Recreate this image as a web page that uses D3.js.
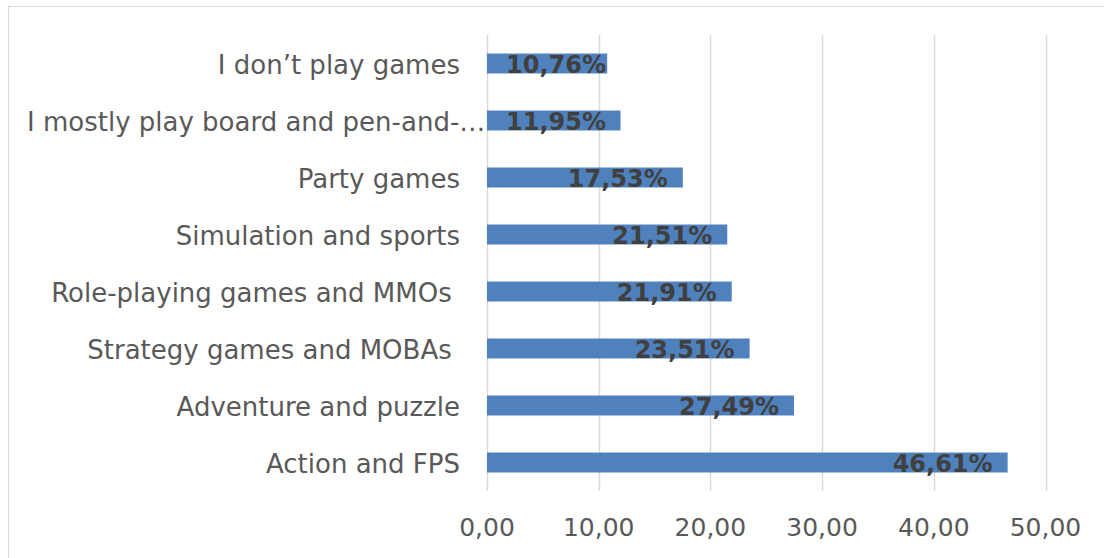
<!DOCTYPE html>
<html>
<head>
<meta charset="utf-8">
<script src="https://cdn.jsdelivr.net/npm/d3@7"></script>
<style>
  body { margin: 0; background: #fff; }
  svg text { white-space: pre; }
</style>
</head>
<body>
<svg width="1104" height="558"></svg>
<script>
const categories = [
  'I don\u2019t play games',
  'I mostly play board and pen-and-\u2026',
  'Party games',
  'Simulation and sports',
  'Role-playing games and MMOs ',
  'Strategy games and MOBAs ',
  'Adventure and puzzle',
  'Action and FPS'
];
const values = [10.76, 11.95, 17.53, 21.51, 21.91, 23.51, 27.49, 46.61];
const ticks = [0, 10, 20, 30, 40, 50];

const FONT = '"DejaVu Sans", Verdana, sans-serif';
const data = categories.map((c, i) => ({ name: c, value: values[i] }));

const svg = d3.select('svg');

// chart border
svg.append('rect')
  .attr('x', 8.5).attr('y', 6.5)
  .attr('width', 1110).attr('height', 600)
  .attr('fill', 'none')
  .attr('stroke', '#d9d9d9')
  .attr('stroke-width', 1);

const x = d3.scaleLinear().domain([0, 50]).range([487, 1045.5]);
const y = d3.scaleBand().domain(categories).range([35, 491]).paddingInner(0.65).paddingOuter(0.325);

// gridlines
svg.append('g')
  .selectAll('line')
  .data(ticks)
  .join('line')
  .attr('x1', d => Math.round(x(d)) + 0.5)
  .attr('x2', d => Math.round(x(d)) + 0.5)
  .attr('y1', 35)
  .attr('y2', 491)
  .attr('stroke', '#d9d9d9')
  .attr('stroke-width', 1.5);

// x tick labels
svg.append('g')
  .selectAll('text')
  .data(ticks)
  .join('text')
  .attr('x', d => x(d))
  .attr('y', 536)
  .attr('text-anchor', 'middle')
  .attr('font-family', FONT)
  .attr('font-size', 25)
  .attr('fill', '#595959')
  .text(d => d3.format('.2f')(d).replace('.', ','));

// bars
svg.append('g')
  .selectAll('rect')
  .data(data)
  .join('rect')
  .attr('x', x(0))
  .attr('y', d => y(d.name))
  .attr('width', d => x(d.value) - x(0))
  .attr('height', y.bandwidth())
  .attr('fill', '#4f81bd');

// category labels
svg.append('g')
  .selectAll('text')
  .data(data)
  .join('text')
  .attr('x', 460)
  .attr('y', d => y(d.name) + y.bandwidth() / 2)
  .attr('dy', '0.4em')
  .attr('text-anchor', 'end')
  .attr('font-family', FONT)
  .attr('font-size', 26)
  .attr('fill', '#595959')
  .text(d => d.name)
  .each(function () {
    const w = this.getComputedTextLength();
    if (460 - w < 27) d3.select(this).attr('text-anchor', 'start').attr('x', 27);
  });

// value labels (inside end, kept off the axis)
svg.append('g')
  .selectAll('text')
  .data(data)
  .join('text')
  .attr('y', d => y(d.name) + y.bandwidth() / 2)
  .attr('dy', '0.38em')
  .attr('text-anchor', 'end')
  .attr('font-family', FONT)
  .attr('font-weight', 'bold')
  .attr('font-size', 24)
  .attr('fill', '#404040')
  .text(d => d3.format('.2f')(d.value).replace('.', ',') + '%')
  .each(function (d) {
    const w = this.getComputedTextLength();
    const right = Math.max(x(d.value) - 15, x(0) + 19 + w);
    d3.select(this).attr('x', right);
  });
</script>
</body>
</html>
